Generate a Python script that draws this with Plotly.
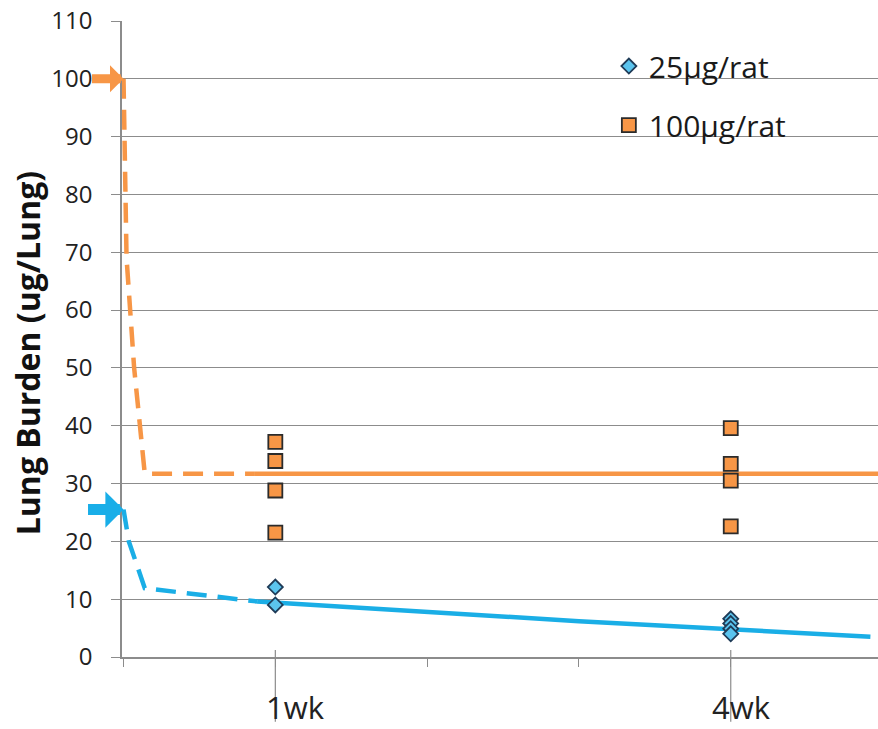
import plotly.graph_objects as go

# ---- data ----
weeks_1 = [1, 1]
weeks_4 = [4, 4, 4, 4]
low_1wk = [12.1, 9.0]
low_4wk = [6.6, 5.8, 4.9, 4.0]
high_1wk = [37.2, 33.9, 28.8, 21.5]
high_4wk = [39.6, 33.4, 30.5, 22.6]

low_dash_x = [0, 0.035, 0.14, 0.88]
low_dash_y = [25.5, 20.0, 11.9, 9.6]
low_fit_x = [0.88, 1, 2, 3, 4, 4.92]
low_fit_y = [9.6, 9.4, 7.8, 6.2, 4.8, 3.5]

high_dash_x = [0, 0.02, 0.07, 0.14, 0.86]
high_dash_y = [100, 69, 50, 31.7, 31.7]
high_fit_x = [0.86, 4.97]
high_fit_y = [31.7, 31.7]

dose_low, dose_high = 25.5, 100
y_ticks = list(range(0, 111, 10))
x_ticks = [0, 1, 2, 3, 4]
x_labels = {1: "1wk", 4: "4wk"}

ORANGE = "#F79646"
BLUE_LINE = "#1AAEE6"
BLUE_FILL = "#5BC4EE"
GRID = "#8C8C8C"
FONT = "Open Sans"

fig = go.Figure()

# fitted / dashed lines
fig.add_trace(go.Scatter(x=high_dash_x, y=high_dash_y, mode="lines", showlegend=False,
                         line=dict(color=ORANGE, width=4.5, dash="20px,11px")))
fig.add_trace(go.Scatter(x=high_fit_x, y=high_fit_y, mode="lines", showlegend=False,
                         line=dict(color=ORANGE, width=4.5)))
fig.add_trace(go.Scatter(x=low_dash_x, y=low_dash_y, mode="lines", showlegend=False,
                         line=dict(color=BLUE_LINE, width=4.5, dash="20px,11px")))
fig.add_trace(go.Scatter(x=low_fit_x, y=low_fit_y, mode="lines", showlegend=False,
                         line=dict(color=BLUE_LINE, width=4.5)))

# points
fig.add_trace(go.Scatter(x=weeks_1 + weeks_4, y=low_1wk + low_4wk, mode="markers",
                         name="25µg/rat", legendgroup="a",
                         marker=dict(symbol="diamond", size=11.5, color=BLUE_FILL,
                                     line=dict(color="#1F3B57", width=1.8))))
fig.add_trace(go.Scatter(x=weeks_1 * 2 + weeks_4, y=high_1wk + high_4wk, mode="markers",
                         name="100µg/rat", legendgroup="b",
                         marker=dict(symbol="square", size=14, color=ORANGE,
                                     line=dict(color="#2B2B2B", width=1.8))))

annotations = []
# dose arrows
annotations.append(dict(x=0, y=dose_high, xref="x", yref="y", ax=-33, ay=0, text="",
                        showarrow=True, arrowhead=1, arrowsize=0.5, arrowwidth=9,
                        arrowcolor=ORANGE))
annotations.append(dict(x=0, y=dose_low, xref="x", yref="y", ax=-37, ay=0, text="",
                        showarrow=True, arrowhead=1, arrowsize=0.55, arrowwidth=11,
                        arrowcolor="#19AEE8"))
# x labels
label_shift = {1: 0.13, 4: 0.07}
for k, t in x_labels.items():
    annotations.append(dict(x=k + label_shift[k], y=-0.115, xref="x", yref="paper", text=t,
                            showarrow=False, yanchor="bottom", xanchor="center",
                            font=dict(family=FONT, size=31, color="#222222")))
# y title
annotations.append(dict(x=-0.124, y=0.478, xref="paper", yref="paper",
                        text="<b>Lung Burden (ug/Lung)</b>", textangle=-90, showarrow=False,
                        xanchor="center", yanchor="middle",
                        font=dict(family=FONT, size=32, color="#111111")))

shapes = []
for k in x_labels:
    shapes.append(dict(type="line", xref="x", yref="paper", x0=k, x1=k, y0=0.011, y1=-0.102,
                       line=dict(color=GRID, width=1.2)))

fig.update_layout(
    width=878, height=729,
    margin=dict(l=122, r=0, t=21, b=72),
    paper_bgcolor="white", plot_bgcolor="white",
    font=dict(family=FONT, color="#222222"),
    showlegend=True,
    legend=dict(x=0.644, y=0.97, xanchor="left", yanchor="top", bgcolor="rgba(0,0,0,0)",
                font=dict(family=FONT, size=30, color="#1a1a1a"),
                traceorder="grouped", tracegroupgap=17),
    annotations=annotations,
    shapes=shapes,
    xaxis=dict(range=[-0.01, 4.97], tickvals=x_ticks, showticklabels=False,
               ticks="outside", ticklen=8, tickcolor=GRID, tickwidth=1.3,
               showgrid=False, zeroline=False, showline=True, linecolor=GRID, linewidth=1.5),
    yaxis=dict(range=[0, 110], tickvals=y_ticks, ticks="outside", ticklen=9,
               tickcolor=GRID, tickwidth=1.3, showgrid=True, gridcolor=GRID, gridwidth=1.3,
               zeroline=False, showline=True, linecolor=GRID, linewidth=1.5,
               tickfont=dict(family=FONT, size=24, color="#222222"),
               ticklabelstandoff=14),
)

fig.write_html("out.html")
